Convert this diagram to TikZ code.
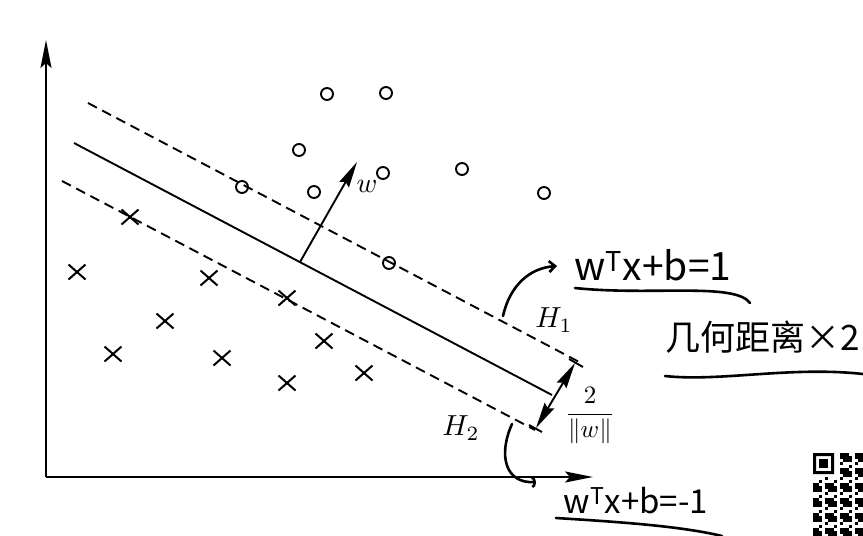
\documentclass[tikz,border=0pt]{standalone}
\usepackage{amsmath}
\usepackage{fontspec}
\usetikzlibrary{arrows.meta,shapes.misc}
\newfontfamily\handfont{Noto Sans CJK SC}
\tikzset{wtip/.tip={Stealth[length=26pt,width=11pt,inset=3pt]}}

\begin{document}
\begin{tikzpicture}[
    x=1pt, y=-1pt,
    mathlabel/.style={transform shape},
    possample/.style={draw, circle, line width=1.9pt, minimum size=12pt, inner sep=0pt},
    negsample/.style={draw, cross out, line width=2pt, minimum width=15pt, minimum height=13pt, inner sep=0pt},
    axis/.style={line width=2pt, -{Stealth[length=28pt,width=11pt,inset=5pt]}},
    margin/.style={line width=1.9pt, dash pattern=on 10pt off 6pt},
    hand/.style={line width=2.6pt, line cap=round},
    handtext/.style={font=\handfont\fontsize{35}{38}\selectfont, inner sep=0pt}
  ]
    \clip (0,0) rectangle (863,536);

    % axes
    \coordinate (o) at (46,477);
    \coordinate (ytop) at (46,40);
    \coordinate (xend) at (593,477);
    \draw[axis] (o) -- (ytop);
    \draw[axis] (o) -- (xend);

    % samples
    \node[possample] (p1) at (327,94) {};
    \node[possample] (p2) at (386,93) {};
    \node[possample] (p3) at (299,150) {};
    \node[possample] (p4) at (242,187) {};
    \node[possample] (p5) at (314,192) {};
    \node[possample] (p6) at (383,173) {};
    \node[possample] (p7) at (462,169) {};
    \node[possample] (p8) at (544,193) {};
    \node[possample] (p9) at (389,263) {};
    \node[negsample] (n1) at (130,217) {};
    \node[negsample] (n2) at (77,272) {};
    \node[negsample] (n3) at (209,278) {};
    \node[negsample] (n4) at (287,298) {};
    \node[negsample] (n5) at (165,321) {};
    \node[negsample] (n6) at (324,341) {};
    \node[negsample] (n7) at (113,354) {};
    \node[negsample] (n8) at (222,358) {};
    \node[negsample] (n9) at (287,383) {};
    \node[negsample] (n10) at (364,373) {};

    % hyperplanes
    \coordinate (u1) at (88,103);
    \coordinate (u2) at (583,364);
    \coordinate (s1) at (74,143);
    \coordinate (s2) at (552,395);
    \coordinate (l1) at (62,181);
    \coordinate (l2) at (535,430);
    \draw[margin] (u1) -- (u2);
    \draw[line width=1.9pt] (s1) -- (s2);
    \draw[margin] (l1) -- (l2);

    \coordinate (wbase) at (300,262);
    \coordinate (wtop) at (357,162);
    \draw[line width=1.9pt, -{wtip}] (wbase) -- (wtop);
    \node[mathlabel, scale=2.8] (wlab) at (367,186) {$w$};

    \coordinate (gtop) at (575,363);
    \coordinate (gbot) at (536,428);
    \draw[line width=1.9pt, {wtip}-{wtip}] (gbot) -- (gtop);
    \draw[line width=1.9pt] (569,359) -- (583,367);
    \draw[line width=1.9pt] (529,425) -- (542,432);

    \node[mathlabel, scale=2.9] (h1) at (554,320) {$H_1$};
    \node[mathlabel, scale=2.9] (h2) at (461,428) {$H_2$};
    \node[mathlabel, scale=2.5] (gap) at (590,416) {$\displaystyle\frac{2}{\|w\|}$};

    % handwriting
    \node[handtext, font=\handfont\fontsize{39}{42}\selectfont] (eq1) at (653,265) {w\textsuperscript{T}x+b=1};
    \node[handtext] (dist) at (763,337) {几何距离×2};
    \node[handtext, font=\handfont\fontsize{33}{36}\selectfont] (eq2) at (636,501) {w\textsuperscript{T}x+b=-1};

    \coordinate (a1s) at (503,316);
    \coordinate (a1e) at (557,266);
    \draw[hand, -{Straight Barb[length=6pt,width=11pt]}] (a1s) .. controls (510,285) and (530,268) .. (a1e);
    \coordinate (a2s) at (512,424);
    \coordinate (a2e) at (536,482);
    \draw[hand, -{Arc Barb[length=4pt,width=12pt]}] (a2s) .. controls (498,455) and (505,484) .. (a2e);

    \draw[hand] (575,288) .. controls (650,296) and (735,282) .. (750,303);
    \draw[hand] (665,376) .. controls (720,382) and (790,366) .. (863,374);
    \draw[hand] (556,518) .. controls (620,522) and (680,526) .. (722,536);

    % qr corner
    \fill[even odd rule] (813,453) rectangle +(21,21) (816,456) rectangle +(15,15);
    \fill (819,459) rectangle +(9,9);
    \foreach \i in {0,...,16}{
      \foreach \j in {0,...,27}{
        \pgfmathtruncatemacro\on{(mod(\i*\i*7+\j*11+\i*\j*3+5*\j*\j,5)<3)&&((\i>7)||(\j>7))}
        \ifnum\on=1 \fill (813+3*\i,453+3*\j) rectangle +(3,3); \fi
      }
    }
\end{tikzpicture}
\end{document}
